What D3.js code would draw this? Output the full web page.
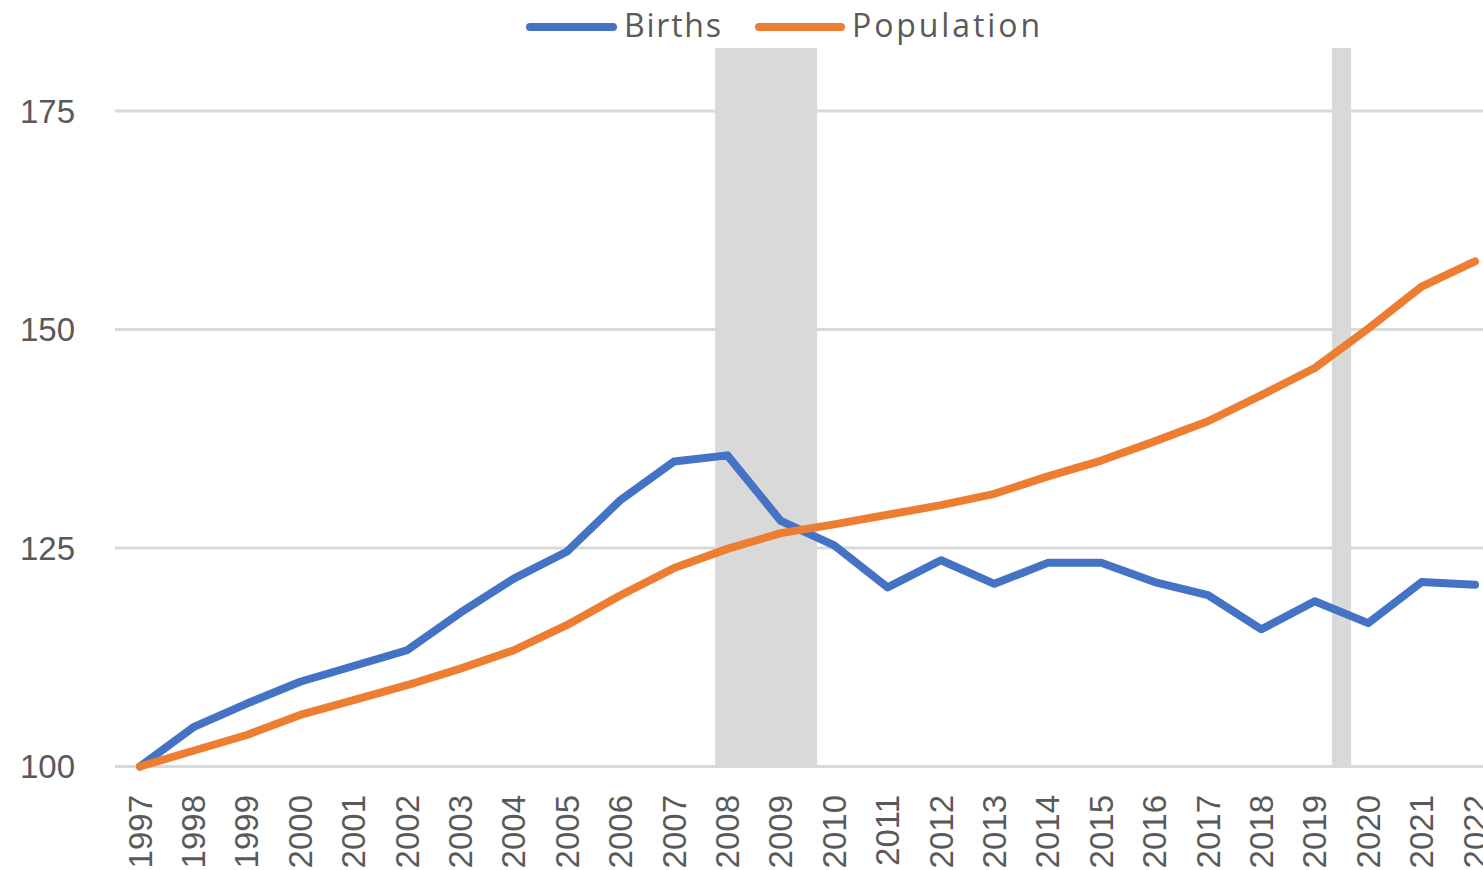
<!DOCTYPE html>
<html>
<head>
<meta charset="utf-8">
<script src="https://cdn.jsdelivr.net/npm/d3@7"></script>
<style>
  html, body { margin: 0; padding: 0; background: #ffffff; overflow: hidden; }
  svg { display: block; }
</style>
</head>
<body>
<svg id="chart" width="1483" height="870"></svg>
<script>
// Index values (1997 = 100)
const years = [1997, 1998, 1999, 2000, 2001, 2002, 2003, 2004, 2005, 2006, 2007, 2008, 2009,
               2010, 2011, 2012, 2013, 2014, 2015, 2016, 2017, 2018, 2019, 2020, 2021, 2022];
const births = [100, 104.5, 107.2, 109.7, 111.5, 113.3, 117.6, 121.5, 124.6, 130.5, 134.9, 135.6, 128.1,
                125.3, 120.5, 123.6, 120.9, 123.3, 123.3, 121.1, 119.6, 115.7, 118.9, 116.4, 121.1, 120.8];
const population = [100, 101.8, 103.6, 105.9, 107.6, 109.3, 111.2, 113.3, 116.2, 119.6, 122.7, 124.9, 126.7,
                    127.7, 128.8, 129.9, 131.2, 133.2, 135.0, 137.2, 139.5, 142.5, 145.6, 150.1, 154.9, 157.8];
// Recession periods, in fractional years on the category axis
const recessionStart = [2007.77, 2019.32];
const recessionEnd   = [2009.68, 2019.68];
const yTicks = [100, 125, 150, 175];
const seriesNames = ["Births", "Population"];
const seriesColors = ["#4472C4", "#ED7D31"];

const svg = d3.select("#chart");
const plotTop = 48, plotLeft = 115, plotRight = 1483;

const x = d3.scaleLinear().domain([1997, 2022]).range([140, 1475]);
const y = d3.scaleLinear().domain([100, 175]).range([766.5, 111]);

// Horizontal gridlines
svg.append("g").selectAll("line").data(yTicks).join("line")
  .attr("x1", plotLeft).attr("x2", plotRight)
  .attr("y1", d => y(d)).attr("y2", d => y(d))
  .attr("stroke", "#d9d9d9").attr("stroke-width", 3);

// Shaded recession bands
const bands = recessionStart.map((s, i) => ({ s, e: recessionEnd[i] }));
svg.append("g").selectAll("rect").data(bands).join("rect")
  .attr("x", d => x(d.s)).attr("width", d => x(d.e) - x(d.s))
  .attr("y", plotTop).attr("height", y(100) + 1.5 - plotTop)
  .attr("fill", "#d9d9d9");

// Y axis labels
svg.append("g").selectAll("text").data(yTicks).join("text")
  .attr("x", 75).attr("y", d => y(d))
  .attr("text-anchor", "end").attr("dominant-baseline", "central")
  .attr("font-family", "Liberation Sans, Arial, sans-serif")
  .attr("font-size", 33).attr("fill", "#595959")
  .text(d => d);

// X axis labels (rotated)
svg.append("g").selectAll("text").data(years).join("text")
  .attr("transform", d => `translate(${x(d)},795) rotate(-90)`)
  .attr("text-anchor", "end").attr("dominant-baseline", "central")
  .attr("font-family", "Liberation Sans, Arial, sans-serif")
  .attr("font-size", 33).attr("fill", "#595959")
  .text(d => d);

// Series lines
const line = d3.line().x((d, i) => x(years[i])).y(d => y(d));
[births, population].forEach((vals, k) => {
  svg.append("path").datum(vals)
    .attr("d", line)
    .attr("fill", "none")
    .attr("stroke", seriesColors[k])
    .attr("stroke-width", 8)
    .attr("stroke-linejoin", "round")
    .attr("stroke-linecap", "round");
});

// Legend
const legendItems = [
  { name: seriesNames[0], color: seriesColors[0], x0: 530, x1: 613, tx: 624, tw: 97 },
  { name: seriesNames[1], color: seriesColors[1], x0: 759, x1: 841, tx: 852, tw: 188 }
];
const lg = svg.append("g");
legendItems.forEach(it => {
  lg.append("line")
    .attr("x1", it.x0).attr("x2", it.x1).attr("y1", 27).attr("y2", 27)
    .attr("stroke", it.color).attr("stroke-width", 8).attr("stroke-linecap", "round");
  lg.append("text")
    .attr("x", it.tx).attr("y", 24)
    .attr("dominant-baseline", "central")
    .attr("font-family", "Open Sans, Liberation Sans, sans-serif")
    .attr("font-size", 32).attr("fill", "#595959")
    .attr("textLength", it.tw).attr("lengthAdjust", "spacing")
    .text(it.name);
});
</script>
</body>
</html>
